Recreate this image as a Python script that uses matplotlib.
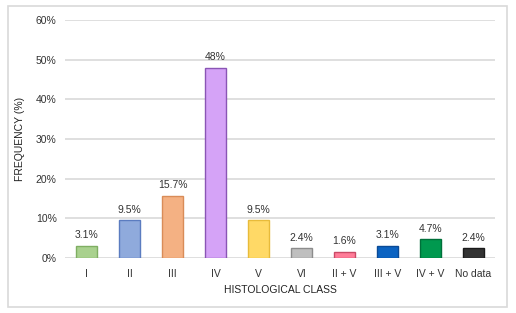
import numpy as np
import matplotlib.pyplot as plt
from matplotlib.patches import Rectangle

categories = ['I', 'II', 'III', 'IV', 'V', 'VI', 'II + V', 'III + V', 'IV + V', 'No data']
values = [3.1, 9.5, 15.7, 48, 9.5, 2.4, 1.6, 3.1, 4.7, 2.4]
labels = ['3.1%', '9.5%', '15.7%', '48%', '9.5%', '2.4%', '1.6%', '3.1%', '4.7%', '2.4%']
fill_colors = ['#a9d18e', '#8faadc', '#f4b183', '#d5a3f7', '#ffd966',
               '#bfbfbf', '#ff7c98', '#0b63c2', '#00994f', '#333333']
edge_colors = ['#7fae62', '#5b7cc0', '#d98c58', '#8a55b5', '#e8bb3a',
               '#8c8c8c', '#c94a66', '#0a4a96', '#00703a', '#1a1a1a']
y_ticks = [0, 10, 20, 30, 40, 50, 60]

plt.rcParams['font.family'] = ['Liberation Sans', 'DejaVu Sans']

fig = plt.figure(figsize=(5.16, 3.13), dpi=100)
ax = fig.add_axes([65 / 516, 55 / 313, 430 / 516, 238 / 313])

# outer frame around the whole chart
fig.patches.append(Rectangle((8 / 516, 6 / 313), 499 / 516, 301 / 313,
                             transform=fig.transFigure, fill=False,
                             edgecolor='#d9d9d9', linewidth=1.2))

x = np.arange(len(categories))
ax.bar(x, values, width=0.5, color=fill_colors, edgecolor=edge_colors,
       linewidth=1, zorder=3)

for xi, v, lab in zip(x, values, labels):
    ax.annotate(lab, (xi, v), xytext=(0, 4), textcoords='offset points',
                ha='center', va='bottom', fontsize=7.5, color='#333333')

ax.set_xlim(-0.5, len(categories) - 0.5)
ax.set_ylim(0, 60)
ax.set_yticks(y_ticks)
ax.set_yticklabels([f'{t}%' for t in y_ticks])
ax.set_xticks(x)
ax.set_xticklabels(categories)
ax.tick_params(axis='both', length=0, labelsize=7.5, colors='#333333')
ax.tick_params(axis='x', pad=8)
ax.tick_params(axis='y', pad=6)

ax.yaxis.grid(True, color='#d9d9d9', linewidth=1.2, zorder=0)
for s in ax.spines.values():
    s.set_visible(False)

ax.set_xlabel('HISTOLOGICAL CLASS', fontsize=7.5, color='#222222', labelpad=4)
ax.set_ylabel('FREQUENCY (%)', fontsize=7.5, color='#222222', labelpad=8)

plt.savefig('out.png', dpi=100)
